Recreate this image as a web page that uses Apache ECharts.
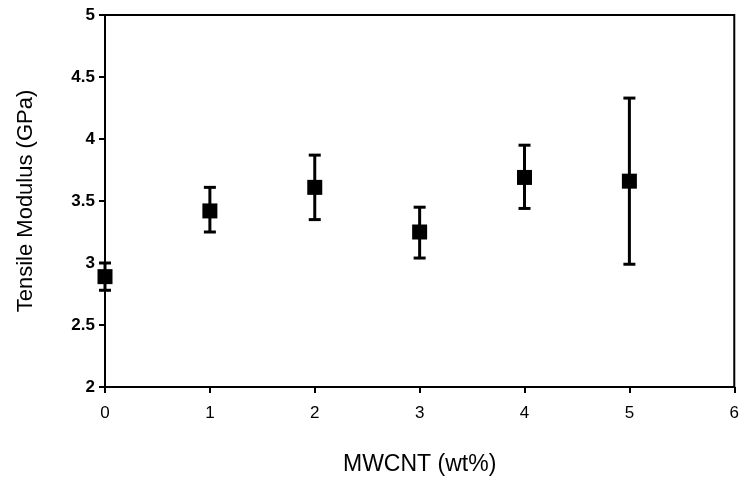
<!DOCTYPE html>
<html>
<head>
<meta charset="utf-8">
<script src="https://cdn.jsdelivr.net/npm/echarts@6/dist/echarts.min.js"></script>
<style>html,body{margin:0;padding:0;background:#fff;}#c{width:742px;height:481px;}</style>
</head>
<body>
<div id="c"></div>
<script>
const xValues = [0, 1, 2, 3, 4, 5];
const modulus = [2.89, 3.42, 3.61, 3.25, 3.69, 3.66];
const upper = [3.00, 3.61, 3.87, 3.45, 3.95, 4.33];
const lower = [2.78, 3.25, 3.35, 3.04, 3.44, 2.99];

const chart = echarts.init(document.getElementById('c'));
const font = 'Liberation Sans, Arial, sans-serif';
const errData = xValues.map((x, i) => [x, lower[i], upper[i]]);
const ptData = xValues.map((x, i) => [x, modulus[i]]);

chart.setOption({
  animation: false,
  backgroundColor: '#fff',
  grid: { left: 105, right: 6, top: 15, bottom: 92, show: true, borderColor: '#000', borderWidth: 2, backgroundColor: 'transparent' },
  xAxis: {
    type: 'value', min: 0, max: 6, interval: 1,
    name: 'MWCNT (wt%)', nameLocation: 'middle', nameGap: 66,
    nameTextStyle: { fontFamily: font, fontSize: 23, color: '#000' },
    axisLine: { show: true, lineStyle: { color: '#000', width: 2 } },
    axisTick: { show: true, inside: false, length: 6, lineStyle: { color: '#000', width: 2 } },
    axisLabel: { fontFamily: font, fontSize: 17, color: '#000', margin: 18 },
    splitLine: { show: false }
  },
  yAxis: {
    type: 'value', min: 2, max: 5, interval: 0.5,
    name: 'Tensile Modulus (GPa)', nameLocation: 'middle', nameGap: 68, nameRotate: 90,
    nameTextStyle: { fontFamily: font, fontSize: 22, color: '#000' },
    axisLine: { show: true, lineStyle: { color: '#000', width: 2 } },
    axisTick: { show: true, inside: false, length: 6, lineStyle: { color: '#000', width: 2 } },
    axisLabel: { fontFamily: font, fontSize: 17, fontWeight: 'bold', color: '#000', margin: 10 },
    splitLine: { show: false }
  },
  series: [
    {
      type: 'custom',
      data: errData,
      clip: false,
      z: 3,
      renderItem: function (params, api) {
        const x = api.value(0);
        const lo = api.coord([x, api.value(1)]);
        const hi = api.coord([x, api.value(2)]);
        const hw = 6;
        const st = { stroke: '#000', lineWidth: 3 };
        return {
          type: 'group',
          children: [
            { type: 'line', shape: { x1: lo[0], y1: lo[1], x2: hi[0], y2: hi[1] }, style: st },
            { type: 'line', shape: { x1: hi[0] - hw, y1: hi[1], x2: hi[0] + hw, y2: hi[1] }, style: st },
            { type: 'line', shape: { x1: lo[0] - hw, y1: lo[1], x2: lo[0] + hw, y2: lo[1] }, style: st }
          ]
        };
      }
    },
    {
      type: 'scatter',
      data: ptData,
      symbol: 'rect',
      symbolSize: 15,
      itemStyle: { color: '#000', opacity: 1 },
      z: 4
    }
  ]
});
</script>
</body>
</html>
